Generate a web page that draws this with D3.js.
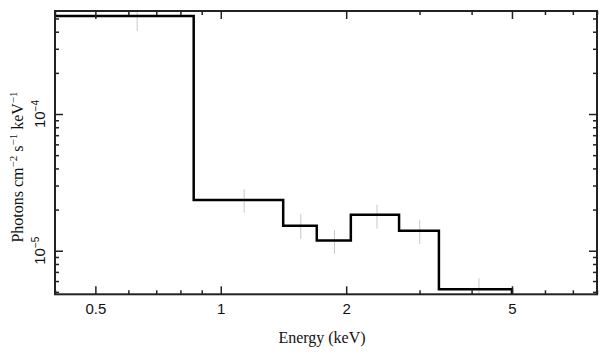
<!DOCTYPE html>
<html><head><meta charset="utf-8">
<script src="https://cdn.jsdelivr.net/npm/d3@7"></script>
<style>body{margin:0;background:#fff}svg{display:block}</style>
</head><body>
<svg id="c" width="608" height="357"></svg>
<script>
// model histogram (bin edges in keV, model flux)
const binLo = [0.30, 0.861, 1.412, 1.700, 2.052, 2.679, 3.339];
const binHi = [0.861, 1.412, 1.700, 2.052, 2.679, 3.339, 5.00];
const model = [5.21e-4, 2.35e-5, 1.52e-5, 1.19e-5, 1.83e-5, 1.40e-5, 5.22e-6];
// data points (energy, error bar low/high)
const dataE  = [0.630, 1.138, 1.556, 1.875, 2.371, 3.003, 4.166];
const dataLo = [4.05e-4, 1.90e-5, 1.22e-5, 9.46e-6, 1.45e-5, 1.12e-5, 4.0e-6];
const dataHi = [7.0e-4, 2.82e-5, 1.85e-5, 1.42e-5, 2.17e-5, 1.68e-5, 6.28e-6];
// ticks
const xMajor = [0.5, 1, 2, 5];
const xMajorLabels = ["0.5", "1", "2", "5"];
const xMinor = [0.4, 0.6, 0.7, 0.8, 0.9, 3, 4, 6, 7, 8];
const yMajor = [1e-5, 1e-4];
const yMajorExp = ["−5", "−4"];
const yMinor = [5e-6, 6e-6, 7e-6, 8e-6, 9e-6, 2e-5, 3e-5, 4e-5, 5e-5, 6e-5, 7e-5, 8e-5, 9e-5, 2e-4, 3e-4, 4e-4, 5e-4];

const L = 55, R = 597, T = 11, B = 294.3;
const x = d3.scaleLog().domain([0.4, 8]).range([L, R]);
const y = d3.scaleLog().domain([4.8e-6, 5.67e-4]).range([B, T]);

const svg = d3.select("#c");
svg.append("defs").append("clipPath").attr("id", "clip")
  .append("rect").attr("x", L).attr("y", T).attr("width", R - L).attr("height", B - T);

const plot = svg.append("g").attr("clip-path", "url(#clip)");

// error bars
plot.selectAll("line.err").data(dataE).join("line")
  .attr("x1", d => x(d)).attr("x2", d => x(d))
  .attr("y1", (d, i) => y(dataLo[i])).attr("y2", (d, i) => y(dataHi[i]))
  .attr("stroke", "#c8c8c8").attr("stroke-width", 1);

// step histogram
const pts = [];
model.forEach((m, i) => {
  pts.push([binLo[i], m]);
  pts.push([binHi[i], m]);
});
pts.push([binHi[binHi.length - 1], 1e-7]);
plot.append("path")
  .attr("d", d3.line().x(d => x(d[0])).y(d => y(Math.max(d[1], 1e-9)))(pts))
  .attr("fill", "none").attr("stroke", "#000").attr("stroke-width", 2.5)
  .attr("stroke-linejoin", "miter");

const tickCol = "#222";
// x axes (bottom & top), inward ticks
function xAxes(vals, len, labels) {
  const ab = d3.axisBottom(x).tickValues(vals).tickSizeInner(-len).tickSizeOuter(0).tickPadding(9)
    .tickFormat((d, i) => labels ? labels[i] : "");
  const gb = svg.append("g").attr("transform", `translate(0,${B})`).call(ab);
  const at = d3.axisTop(x).tickValues(vals).tickSizeInner(-len).tickSizeOuter(0).tickFormat("");
  const gt = svg.append("g").attr("transform", `translate(0,${T})`).call(at);
  [gb, gt].forEach(g => {
    g.select(".domain").remove();
    g.selectAll("line").attr("stroke", tickCol).attr("stroke-width", 1.5);
    g.selectAll("text").attr("font-family", "'Liberation Sans', Arial, sans-serif")
      .attr("font-size", 15).attr("fill", "#111");
  });
}
xAxes(xMinor, 4, null);
xAxes(xMajor, 8, xMajorLabels);

function yAxes(vals, len) {
  const al = d3.axisLeft(y).tickValues(vals).tickSizeInner(-len).tickSizeOuter(0).tickFormat("");
  const gl = svg.append("g").attr("transform", `translate(${L},0)`).call(al);
  const ar = d3.axisRight(y).tickValues(vals).tickSizeInner(-len).tickSizeOuter(0).tickFormat("");
  const gr = svg.append("g").attr("transform", `translate(${R},0)`).call(ar);
  [gl, gr].forEach(g => {
    g.select(".domain").remove();
    g.selectAll("line").attr("stroke", tickCol).attr("stroke-width", 1.5);
  });
}
yAxes(yMinor, 4);
yAxes(yMajor, 8);

// y tick labels (rotated)
yMajor.forEach((v, i) => {
  const t = svg.append("text")
    .attr("transform", `translate(45,${y(v)}) rotate(-90)`)
    .attr("text-anchor", "middle")
    .attr("font-family", "'Liberation Sans', Arial, sans-serif")
    .attr("font-size", 15).attr("fill", "#111");
  t.append("tspan").text("10");
  t.append("tspan").attr("dy", -6).attr("font-size", 10).text(yMajorExp[i]);
});

// frame
svg.append("rect").attr("x", L).attr("y", T).attr("width", R - L).attr("height", B - T)
  .attr("fill", "none").attr("stroke", "#222").attr("stroke-width", 2);

// axis titles
svg.append("text").attr("x", 322).attr("y", 343).attr("text-anchor", "middle")
  .attr("font-family", "'Liberation Serif', 'Times New Roman', serif").attr("font-size", 16)
  .attr("fill", "#111").text("Energy (keV)");

const yt = svg.append("text")
  .attr("transform", "translate(23,167) rotate(-90)")
  .attr("text-anchor", "middle")
  .attr("font-family", "'Liberation Serif', 'Times New Roman', serif").attr("font-size", 16)
  .attr("fill", "#111");
yt.append("tspan").text("Photons cm");
yt.append("tspan").attr("dy", -6).attr("font-size", 11).text("−2");
yt.append("tspan").attr("dy", 6).text(" s");
yt.append("tspan").attr("dy", -6).attr("font-size", 11).text("−1");
yt.append("tspan").attr("dy", 6).text(" keV");
yt.append("tspan").attr("dy", -6).attr("font-size", 11).text("−1");
</script>
</body></html>
